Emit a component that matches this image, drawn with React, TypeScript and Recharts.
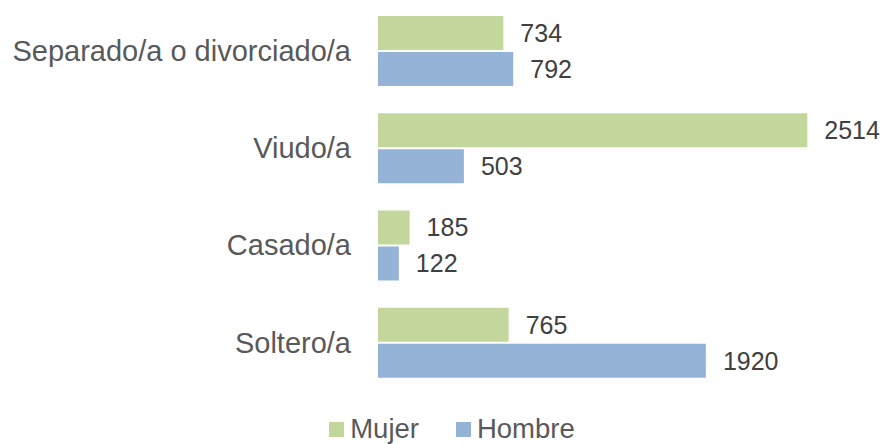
import { BarChart, Bar, XAxis, YAxis, Legend, LabelList } from "recharts";

const categories = ["Separado/a o divorciado/a", "Viudo/a", "Casado/a", "Soltero/a"];
const mujer = [734, 2514, 185, 765];
const hombre = [792, 503, 122, 1920];

const series = [
  { key: "mujer", name: "Mujer", color: "#c3d69b" },
  { key: "hombre", name: "Hombre", color: "#95b3d7" },
];

const data = categories.map((name, i) => ({ name, mujer: mujer[i], hombre: hombre[i] }));

const FONT = '"Liberation Sans", Arial, sans-serif';

const LegendContent = () => (
  <div
    style={{
      height: 53,
      boxSizing: "border-box",
      paddingTop: 23,
      display: "flex",
      justifyContent: "center",
      alignItems: "flex-start",
      gap: 37,
      fontFamily: FONT,
      fontSize: 27.5,
      color: "#595959",
      lineHeight: "30px",
      paddingLeft: 82,
    }}
  >
    {series.map((s) => (
      <div key={s.key} style={{ display: "flex", alignItems: "center" }}>
        <span style={{ width: 15, height: 15, background: s.color, marginRight: 6, display: "inline-block" }} />
        <span>{s.name}</span>
      </div>
    ))}
  </div>
);

export default function App() {
  return (
    <div style={{ position: "absolute", left: 0, top: 0, width: 882, height: 444, background: "#fff" }}>
      <BarChart
        width={882}
        height={444}
        data={data}
        layout="vertical"
        margin={{ top: 2, right: 60, bottom: 0, left: 0 }}
        barSize={34}
        barGap={2}
      >
        <XAxis type="number" domain={[0, 2600]} hide />
        <YAxis
          type="category"
          dataKey="name"
          width={378}
          axisLine={false}
          tickLine={false}
          tickSize={0}
          tickMargin={27}
          tick={{ fill: "#595959", fontSize: 29, fontFamily: FONT }}
        />
        <Legend verticalAlign="bottom" height={53} content={<LegendContent />} />
        {series.map((s) => (
          <Bar key={s.key} dataKey={s.key} name={s.name} fill={s.color} isAnimationActive={false}>
            <LabelList
              dataKey={s.key}
              position="right"
              offset={17}
              fill="#404040"
              fontSize={25}
              fontFamily={FONT}
            />
          </Bar>
        ))}
      </BarChart>
    </div>
  );
}
